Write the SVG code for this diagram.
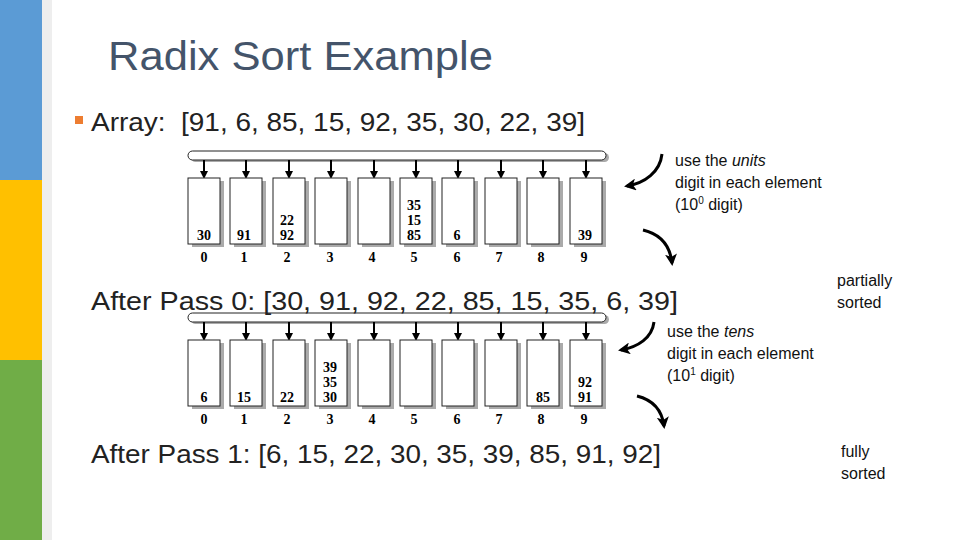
<svg xmlns="http://www.w3.org/2000/svg" width="960" height="540" viewBox="0 0 960 540">
<style>
.t{font-family:"Liberation Sans",Arial,sans-serif;}
.b{font-family:"Liberation Serif","Times New Roman",serif;font-weight:bold;font-size:14px;text-anchor:middle;}
.box{fill:#fff;stroke:#222;stroke-width:1}
.sh{fill:#aaa}
.ln{stroke:#000;stroke-width:2;fill:none}
.cv{stroke-width:3}
</style>
<defs>
<marker id="ah" markerWidth="8" markerHeight="8" refX="6" refY="4" orient="auto" markerUnits="userSpaceOnUse"><path d="M0,0 L8,4 L0,8z" fill="#000"/></marker>
<marker id="ah2" markerWidth="12" markerHeight="12" refX="9" refY="6" orient="auto" markerUnits="userSpaceOnUse"><path d="M0,0 L12,6 L0,12 L3,6z" fill="#000"/></marker>
</defs>
<rect width="960" height="540" fill="#fff"/>
<g id="strip">
<rect x="0" y="0" width="42" height="180" fill="#5b9bd5"/>
<rect x="0" y="180" width="42" height="180" fill="#ffc000"/>
<rect x="0" y="360" width="42" height="180" fill="#70ad47"/>
<rect x="42" y="0" width="10" height="540" fill="#eee"/>
</g>
<text class="t" x="108" y="70" font-size="40" fill="#44546a" textLength="385" lengthAdjust="spacingAndGlyphs">Radix Sort Example</text>
<rect x="75" y="116" width="8" height="8" fill="#ed7d31"/>
<text class="t" x="91" y="131" font-size="25" fill="#222" textLength="494" lengthAdjust="spacingAndGlyphs" xml:space="preserve">Array:  [91, 6, 85, 15, 92, 35, 30, 22, 39]</text>

<g id="diagram1">
<rect x="191" y="153" width="418" height="9" rx="4.5" fill="#aaa"/>
<rect x="188" y="151" width="418" height="9" rx="4.5" fill="#fff" stroke="#222"/>
</g>
<g id="diagram2">
<rect x="191" y="315" width="418" height="9" rx="4.5" fill="#aaa"/>
<rect x="188" y="313" width="418" height="9" rx="4.5" fill="#fff" stroke="#222"/>
</g>

<g id="connectors" class="ln">
<path d="M204,160 V177" marker-end="url(#ah)"/><path d="M246,160 V177" marker-end="url(#ah)"/><path d="M289,160 V177" marker-end="url(#ah)"/><path d="M331,160 V177" marker-end="url(#ah)"/><path d="M374,160 V177" marker-end="url(#ah)"/><path d="M416,160 V177" marker-end="url(#ah)"/><path d="M458,160 V177" marker-end="url(#ah)"/><path d="M501,160 V177" marker-end="url(#ah)"/><path d="M543,160 V177" marker-end="url(#ah)"/><path d="M586,160 V177" marker-end="url(#ah)"/>
<path d="M204,322 V339" marker-end="url(#ah)"/><path d="M246,322 V339" marker-end="url(#ah)"/><path d="M289,322 V339" marker-end="url(#ah)"/><path d="M331,322 V339" marker-end="url(#ah)"/><path d="M374,322 V339" marker-end="url(#ah)"/><path d="M416,322 V339" marker-end="url(#ah)"/><path d="M458,322 V339" marker-end="url(#ah)"/><path d="M501,322 V339" marker-end="url(#ah)"/><path d="M543,322 V339" marker-end="url(#ah)"/><path d="M586,322 V339" marker-end="url(#ah)"/>
<path class="cv" d="M662,154 C660,172 645,183 627,186" marker-end="url(#ah2)"/>
<path class="cv" d="M643,230 C660,234 670,245 672,263" marker-end="url(#ah2)"/>
<path class="cv" d="M654,322 C652,338 638,347 621,350" marker-end="url(#ah2)"/>
<path class="cv" d="M637,396 C653,400 662,410 664,426" marker-end="url(#ah2)"/>
</g>

<g id="boxes1">
<g><rect class="sh" x="192" y="181" width="32" height="66"/><rect class="box" x="188" y="178" width="32" height="66"/></g>
<g><rect class="sh" x="234" y="181" width="32" height="66"/><rect class="box" x="230" y="178" width="32" height="66"/></g>
<g><rect class="sh" x="277" y="181" width="32" height="66"/><rect class="box" x="273" y="178" width="32" height="66"/></g>
<g><rect class="sh" x="319" y="181" width="32" height="66"/><rect class="box" x="315" y="178" width="32" height="66"/></g>
<g><rect class="sh" x="362" y="181" width="32" height="66"/><rect class="box" x="358" y="178" width="32" height="66"/></g>
<g><rect class="sh" x="404" y="181" width="32" height="66"/><rect class="box" x="400" y="178" width="32" height="66"/></g>
<g><rect class="sh" x="446" y="181" width="32" height="66"/><rect class="box" x="442" y="178" width="32" height="66"/></g>
<g><rect class="sh" x="489" y="181" width="32" height="66"/><rect class="box" x="485" y="178" width="32" height="66"/></g>
<g><rect class="sh" x="531" y="181" width="32" height="66"/><rect class="box" x="527" y="178" width="32" height="66"/></g>
<g><rect class="sh" x="574" y="181" width="32" height="66"/><rect class="box" x="570" y="178" width="32" height="66"/></g>
</g>
<g id="labels1" class="b">
<text x="204" y="240">30</text><text x="244" y="240">91</text>
<text x="287" y="225">22</text><text x="287" y="240">92</text>
<text x="414" y="210">35</text><text x="414" y="225">15</text><text x="414" y="240">85</text>
<text x="457" y="240">6</text><text x="585" y="240">39</text>
<text x="204" y="262">0</text><text x="244" y="262">1</text><text x="287" y="262">2</text><text x="330" y="262">3</text><text x="372" y="262">4</text><text x="414" y="262">5</text><text x="457" y="262">6</text><text x="499" y="262">7</text><text x="541" y="262">8</text><text x="584" y="262">9</text>
</g>

<g id="boxes2">
<g><rect class="sh" x="192" y="343" width="32" height="66"/><rect class="box" x="188" y="340" width="32" height="66"/></g>
<g><rect class="sh" x="234" y="343" width="32" height="66"/><rect class="box" x="230" y="340" width="32" height="66"/></g>
<g><rect class="sh" x="277" y="343" width="32" height="66"/><rect class="box" x="273" y="340" width="32" height="66"/></g>
<g><rect class="sh" x="319" y="343" width="32" height="66"/><rect class="box" x="315" y="340" width="32" height="66"/></g>
<g><rect class="sh" x="362" y="343" width="32" height="66"/><rect class="box" x="358" y="340" width="32" height="66"/></g>
<g><rect class="sh" x="404" y="343" width="32" height="66"/><rect class="box" x="400" y="340" width="32" height="66"/></g>
<g><rect class="sh" x="446" y="343" width="32" height="66"/><rect class="box" x="442" y="340" width="32" height="66"/></g>
<g><rect class="sh" x="489" y="343" width="32" height="66"/><rect class="box" x="485" y="340" width="32" height="66"/></g>
<g><rect class="sh" x="531" y="343" width="32" height="66"/><rect class="box" x="527" y="340" width="32" height="66"/></g>
<g><rect class="sh" x="574" y="343" width="32" height="66"/><rect class="box" x="570" y="340" width="32" height="66"/></g>
</g>
<g id="labels2" class="b">
<text x="204" y="402">6</text><text x="244" y="402">15</text><text x="287" y="402">22</text>
<text x="330" y="372">39</text><text x="330" y="387">35</text><text x="330" y="402">30</text>
<text x="543" y="402">85</text>
<text x="585" y="387">92</text><text x="585" y="402">91</text>
<text x="204" y="424">0</text><text x="244" y="424">1</text><text x="287" y="424">2</text><text x="330" y="424">3</text><text x="372" y="424">4</text><text x="414" y="424">5</text><text x="457" y="424">6</text><text x="499" y="424">7</text><text x="541" y="424">8</text><text x="584" y="424">9</text>
</g>

<g id="notes" class="t" font-size="16" fill="#111">
<text x="675" y="166">use the <tspan font-style="italic">units</tspan></text>
<text x="675" y="188">digit in each element</text>
<text x="675" y="210">(10<tspan font-size="10" dy="-6">0</tspan><tspan dy="6"> digit)</tspan></text>
<text x="837" y="286">partially</text>
<text x="837" y="308">sorted</text>
<text x="667" y="337">use the <tspan font-style="italic">tens</tspan></text>
<text x="667" y="359">digit in each element</text>
<text x="667" y="381">(10<tspan font-size="10" dy="-6">1</tspan><tspan dy="6"> digit)</tspan></text>
<text x="841" y="457">fully</text>
<text x="841" y="479">sorted</text>
</g>
<text class="t" x="91" y="310" font-size="25" fill="#222" textLength="587" lengthAdjust="spacingAndGlyphs">After Pass 0: [30, 91, 92, 22, 85, 15, 35, 6, 39]</text>
<text class="t" x="91" y="463" font-size="25" fill="#222" textLength="570" lengthAdjust="spacingAndGlyphs">After Pass 1: [6, 15, 22, 30, 35, 39, 85, 91, 92]</text>
</svg>
